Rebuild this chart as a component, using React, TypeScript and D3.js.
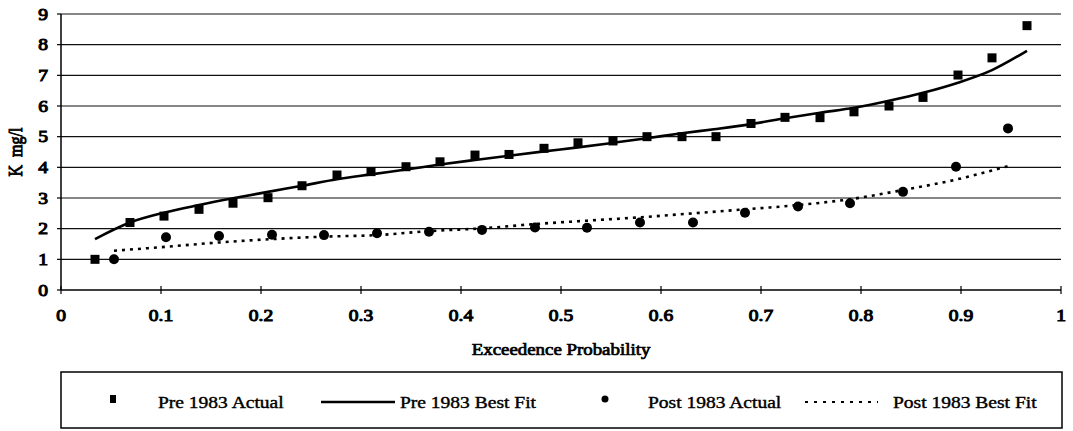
import * as d3 from "d3";
import type { ReactNode } from "react";

// exceedence probabilities and concentrations
const prePlot = [
  0.034, 0.069, 0.103, 0.138, 0.172, 0.207, 0.241, 0.276, 0.31, 0.345,
  0.379, 0.414, 0.448, 0.483, 0.517, 0.552, 0.586, 0.621, 0.655, 0.69,
  0.724, 0.759, 0.793, 0.828, 0.862, 0.897, 0.931, 0.966,
];
const preActual = [
  1.0, 2.2, 2.41, 2.63, 2.83, 3.01, 3.4, 3.75, 3.86, 4.02, 4.18, 4.4, 4.42,
  4.62, 4.8, 4.86, 5.0, 5.0, 5.0, 5.43, 5.63, 5.62, 5.81, 6.0, 6.28, 7.01,
  7.57, 8.62,
];
const preFit = [
  1.66, 2.2, 2.52, 2.77, 2.99, 3.2, 3.4, 3.61, 3.77, 3.93, 4.09, 4.24, 4.38,
  4.52, 4.65, 4.8, 4.95, 5.11, 5.25, 5.41, 5.6, 5.78, 5.94, 6.17, 6.43, 6.76,
  7.17, 7.8,
];

const postPlot = [
  0.053, 0.105, 0.158, 0.211, 0.263, 0.316, 0.368, 0.421, 0.474, 0.526,
  0.579, 0.632, 0.684, 0.737, 0.789, 0.842, 0.895, 0.947,
];
const postActual = [
  1.0, 1.72, 1.76, 1.8, 1.79, 1.85, 1.9, 1.96, 2.04, 2.03, 2.2, 2.2, 2.52,
  2.72, 2.83, 3.2, 4.02, 5.27,
];
const postFit = [
  1.28, 1.41, 1.55, 1.66, 1.74, 1.79, 1.92, 2.01, 2.15, 2.26, 2.37, 2.5,
  2.63, 2.77, 2.96, 3.26, 3.6, 4.04,
];

const xTicks = [0, 0.1, 0.2, 0.3, 0.4, 0.5, 0.6, 0.7, 0.8, 0.9, 1];
const yTicks = [0, 1, 2, 3, 4, 5, 6, 7, 8, 9];

const W = 1073;
const H = 431;
const font = '"Liberation Serif", "Times New Roman", serif';

// the scan is wider than it is tall, so text gets stretched sideways
function T(props: {
  x: number;
  y: number;
  size: number;
  sx?: number;
  weight?: number;
  anchor?: "start" | "middle" | "end";
  rotate?: number;
  children: ReactNode;
}) {
  const { x, y, size, sx = 1.22, weight = 0.8, anchor = "start", rotate = 0 } = props;
  const tf = rotate
    ? `translate(${x},${y}) rotate(${rotate}) scale(1,${sx})`
    : `translate(${x},${y}) scale(${sx},1)`;
  return (
    <text
      transform={tf}
      fontSize={size}
      textAnchor={anchor}
      stroke="#000"
      strokeWidth={weight}
      fill="#000"
      style={{ whiteSpace: "pre" }}
    >
      {props.children}
    </text>
  );
}

export default function App() {
  const x = d3.scaleLinear().domain([0, 1]).range([61, 1061]);
  const y = d3.scaleLinear().domain([0, 9]).range([290, 14]);

  const line = d3
    .line<[number, number]>()
    .x((d) => x(d[0]))
    .y((d) => y(d[1]))
    .curve(d3.curveMonotoneX);

  const prePath = line(prePlot.map((p, i) => [p, preFit[i]]));
  const postPath = line(postPlot.map((p, i) => [p, postFit[i]]));

  const ly = 402;

  return (
    <svg
      width={W}
      height={H}
      style={{
        position: "absolute",
        left: 0,
        top: 0,
        background: "#fff",
        fontFamily: font,
      }}
    >
      {/* grid */}
      {yTicks.slice(1).map((t) => (
        <line
          key={"g" + t}
          x1={x(0)}
          x2={x(1)}
          y1={y(t)}
          y2={y(t)}
          stroke="#111"
          strokeWidth={1.2}
        />
      ))}

      {/* y axis */}
      <line x1={x(0)} x2={x(0)} y1={y(0)} y2={y(9)} stroke="#000" strokeWidth={1.5} />
      {yTicks.map((t) => (
        <g key={"y" + t}>
          <line x1={x(0) - 4} x2={x(0)} y1={y(t)} y2={y(t)} stroke="#000" strokeWidth={1.2} />
          <T x={48} y={y(t) + 5.5} size={16} anchor="end" weight={1}>
            {t}
          </T>
        </g>
      ))}

      {/* x axis */}
      <line x1={x(0)} x2={x(1)} y1={y(0)} y2={y(0)} stroke="#000" strokeWidth={1.5} />
      {xTicks.map((t) => (
        <g key={"x" + t}>
          <line x1={x(t)} x2={x(t)} y1={y(0) - 4} y2={y(0) + 4} stroke="#000" strokeWidth={1.2} />
          <T x={x(t)} y={321} size={16} anchor="middle" weight={1}>
            {t}
          </T>
        </g>
      ))}

      <T x={x(0.5)} y={355} size={16} anchor="middle" weight={0.7} sx={1.18}>
        Exceedence Probability
      </T>
      <T x={22} y={y(4.5)} size={16} anchor="middle" weight={0.8} rotate={-90}>
        {"K  mg/l"}
      </T>

      {/* fits */}
      <path d={prePath ?? ""} fill="none" stroke="#000" strokeWidth={2.6} />
      <path
        d={postPath ?? ""}
        fill="none"
        stroke="#000"
        strokeWidth={2.6}
        strokeDasharray="3,5"
      />

      {/* actual points */}
      {prePlot.map((p, i) => (
        <rect
          key={"pre" + i}
          x={x(p) - 4.5}
          y={y(preActual[i]) - 4.5}
          width={9}
          height={9}
          fill="#000"
        />
      ))}
      {postPlot.map((p, i) => (
        <circle key={"post" + i} cx={x(p)} cy={y(postActual[i])} r={5} fill="#000" />
      ))}

      {/* legend */}
      <rect x={61} y={372} width={1001} height={56} fill="none" stroke="#000" strokeWidth={1.5} />
      <rect x={110} y={ly - 7} width={6} height={8} fill="#000" />
      <T x={158} y={ly + 6} size={16} weight={0.4}>
        Pre 1983 Actual
      </T>
      <line x1={321} x2={395} y1={ly} y2={ly} stroke="#000" strokeWidth={2.6} />
      <T x={400} y={ly + 6} size={16} weight={0.4}>
        Pre 1983 Best Fit
      </T>
      <circle cx={605} cy={ly - 3} r={3.5} fill="#000" />
      <T x={648} y={ly + 6} size={16} weight={0.4}>
        Post 1983 Actual
      </T>
      <line
        x1={805}
        x2={878}
        y1={ly}
        y2={ly}
        stroke="#000"
        strokeWidth={2}
        strokeDasharray="3,6"
      />
      <T x={893} y={ly + 6} size={16} weight={0.4}>
        Post 1983 Best Fit
      </T>
    </svg>
  );
}
